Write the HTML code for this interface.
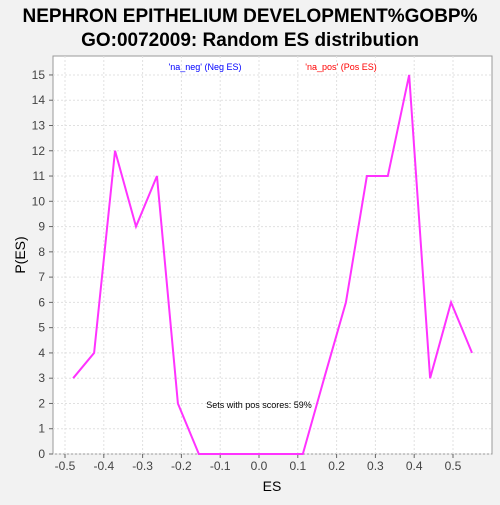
<!DOCTYPE html>
<html><head><meta charset="utf-8"><style>
body{margin:0;background:#f2f2f2;font-family:"Liberation Sans",sans-serif;}
svg text{font-family:"Liberation Sans",sans-serif;}
</style></head><body>
<svg id="c" width="500" height="500">
<rect x="0" y="0" width="500" height="500" fill="#f2f2f2"/>
<text x="250" y="22" text-anchor="middle" font-size="19" font-weight="bold">NEPHRON EPITHELIUM DEVELOPMENT%GOBP%</text>
<text x="250" y="46" text-anchor="middle" font-size="19" font-weight="bold">GO:0072009: Random ES distribution</text>
<rect x="53" y="56" width="439" height="398" fill="#ffffff" stroke="#999"/>
<g id="grid"></g>
<g id="axes"></g>
<text x="205" y="70" text-anchor="middle" font-size="9" fill="#0000ff">'na_neg' (Neg ES)</text>
<text x="341" y="70" text-anchor="middle" font-size="9" fill="#ff0000">'na_pos' (Pos ES)</text>
<text x="259" y="408" text-anchor="middle" font-size="9">Sets with pos scores: 59%</text>
<text x="272" y="491" text-anchor="middle" font-size="14">ES</text>
<text x="25" y="255" text-anchor="middle" font-size="14" transform="rotate(-90 25 255)">P(ES)</text>
<g id="series"></g>
</svg>
<script>
const esValues=[-0.479,-0.425,-0.371,-0.317,-0.263,-0.209,-0.155,-0.101,-0.047,0.006,0.06,0.113,0.168,0.224,0.278,0.332,0.387,0.441,0.495,0.549];
const pValues=[3,4,12,9,11,2,0,0,0,0,0,0,3,6,11,11,15,3,6,4];
const xTicks=[-0.5,-0.4,-0.3,-0.2,-0.1,0.0,0.1,0.2,0.3,0.4,0.5];
const xTickLabels=["-0.5","-0.4","-0.3","-0.2","-0.1","0.0","0.1","0.2","0.3","0.4","0.5"];
const yTicks=[0,1,2,3,4,5,6,7,8,9,10,11,12,13,14,15];
const NS="http://www.w3.org/2000/svg";
const xs=v=>259+v*388;
const ys=v=>454-v*25.27;
function mk(t,a,p){const e=document.createElementNS(NS,t);for(const k in a)e.setAttribute(k,a[k]);p.appendChild(e);return e;}
const grid=document.getElementById('grid'),axes=document.getElementById('axes'),series=document.getElementById('series');
xTicks.forEach((v,i)=>{
 const g=mk('line',{x1:xs(v),x2:xs(v),y1:56,y2:454,stroke:'#e0e0e0','stroke-dasharray':'2,2'},grid);
 
 
 const t=mk('line',{x1:xs(v),x2:xs(v),y1:454,y2:458,stroke:'#666'},axes);
 
 
 const l=mk('text',{x:xs(v),y:470,'text-anchor':'middle','font-size':12,fill:'#444'},axes);
 l.textContent=xTickLabels[i];
 
 
});
yTicks.forEach(v=>{
 const g=mk('line',{x1:53,x2:492,y1:ys(v),y2:ys(v),stroke:'#e0e0e0','stroke-dasharray':'2,2'},grid);
 
 
 const t=mk('line',{x1:49,x2:53,y1:ys(v),y2:ys(v),stroke:'#666'},axes);
 
 
 const l=mk('text',{x:45,y:ys(v)+4,'text-anchor':'end','font-size':12,fill:'#444'},axes);
 l.textContent=String(v);
 
 
});
const pts=esValues.map((v,i)=>xs(v)+','+ys(pValues[i])).join(' ');
const pl=mk('polyline',{points:pts,fill:'none',stroke:'#ff33ff','stroke-width':2},series);


</script>
</body></html>
